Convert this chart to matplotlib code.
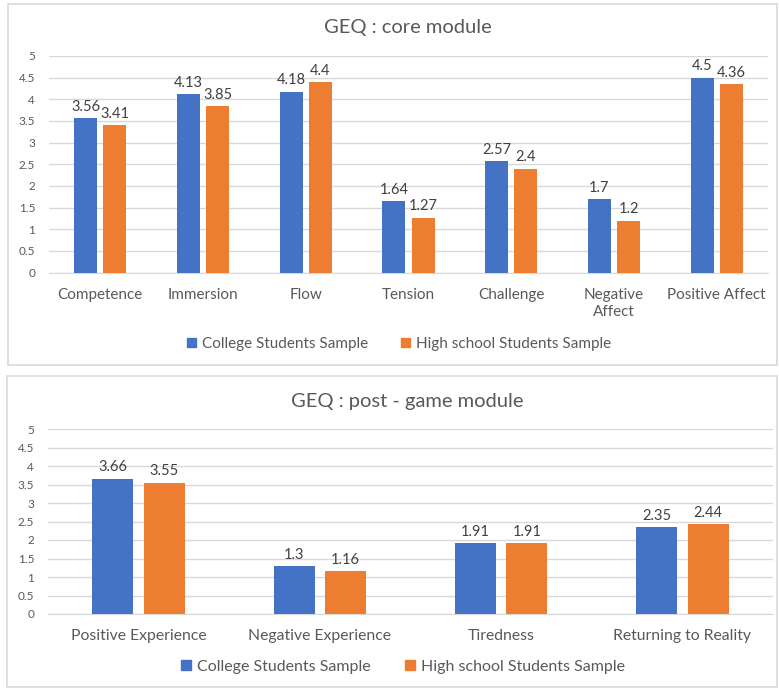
import matplotlib.pyplot as plt
import numpy as np
from matplotlib.patches import Rectangle, Patch

plt.rcParams["font.family"] = ["Lato", "DejaVu Sans"]

CORE_LABELS = ["Competence", "Immersion", "Flow", "Tension", "Challenge", "Negative\nAffect", "Positive Affect"]
CORE_COLLEGE = [3.56, 4.13, 4.18, 1.64, 2.57, 1.7, 4.5]
CORE_HIGH = [3.41, 3.85, 4.4, 1.27, 2.4, 1.2, 4.36]

POST_LABELS = ["Positive Experience", "Negative Experience", "Tiredness", "Returning to Reality"]
POST_COLLEGE = [3.66, 1.3, 1.91, 2.35]
POST_HIGH = [3.55, 1.16, 1.91, 2.44]

SERIES = ["College Students Sample", "High school Students Sample"]
BLUE = "#4472C4"
ORANGE = "#ED7D31"
GRID = "#d9d9d9"
TEXT = "#595959"
LABEL = "#404040"

W, H = 779, 688
fig = plt.figure(figsize=(W / 100, H / 100), dpi=100)


def px_axes(left, top, right, bottom):
    return fig.add_axes([left / W, 1 - bottom / H, (right - left) / W, (bottom - top) / H])


def frame(left, top, right, bottom):
    fig.patches.append(Rectangle((left / W, 1 - bottom / H), (right - left) / W, (bottom - top) / H,
                                 transform=fig.transFigure, fill=False, edgecolor=GRID, linewidth=1.2))


def draw_panel(ax, labels, college, high, title, title_y, legend_x, legend_y, cat_size, legend_size):
    x = np.arange(len(labels))
    width = 0.225
    offset = 0.142
    b1 = ax.bar(x - offset, college, width, color=BLUE, zorder=3)
    b2 = ax.bar(x + offset, high, width, color=ORANGE, zorder=3)
    for bars, vals in ((b1, college), (b2, high)):
        for rect, v in zip(bars, vals):
            ax.annotate(f"{v:g}", (rect.get_x() + rect.get_width() / 2, v), xytext=(0, 3),
                        textcoords="offset points", ha="center", va="bottom",
                        fontsize=10.5, color=LABEL)
    ax.set_ylim(0, 5)
    ax.set_xlim(-0.5, len(labels) - 0.5)
    ticks = np.arange(0, 5.01, 0.5)
    ax.set_yticks(ticks)
    ax.set_yticklabels([f"{t:g}" for t in ticks])
    ax.yaxis.grid(True, color=GRID, linewidth=1, zorder=0)
    ax.set_axisbelow(True)
    ax.set_xticks(x)
    ax.set_xticklabels(labels, linespacing=1.25)
    ax.tick_params(axis="y", length=0, pad=10, labelsize=8.5, labelcolor=TEXT)
    ax.tick_params(axis="x", length=0, pad=11, labelsize=cat_size, labelcolor=TEXT)
    for side in ("top", "right", "left"):
        ax.spines[side].set_visible(False)
    ax.spines["bottom"].set_color(GRID)
    fig.text(0.523, 1 - title_y / H, title, ha="center", va="center", fontsize=14.5, color=TEXT)
    handles = [Patch(color=BLUE), Patch(color=ORANGE)]
    fig.legend(handles, SERIES, loc="center", bbox_to_anchor=(legend_x / W, 1 - legend_y / H), ncol=2,
               frameon=False, fontsize=legend_size, labelcolor=TEXT, handlelength=0.6, handleheight=0.6,
               handletextpad=0.35, columnspacing=2.2)


frame(8, 4, 777, 365)
frame(7, 376, 777, 687)

ax_top = px_axes(49, 56, 768, 272.5)
draw_panel(ax_top, CORE_LABELS, CORE_COLLEGE, CORE_HIGH, "GEQ : core module", 27, 399, 344, 11, 11)

ax_bot = px_axes(48, 429, 773, 614)
draw_panel(ax_bot, POST_LABELS, POST_COLLEGE, POST_HIGH, "GEQ : post - game module", 402, 403, 667, 11.3, 11.5)

fig.savefig("out.png", dpi=100, facecolor="white")
